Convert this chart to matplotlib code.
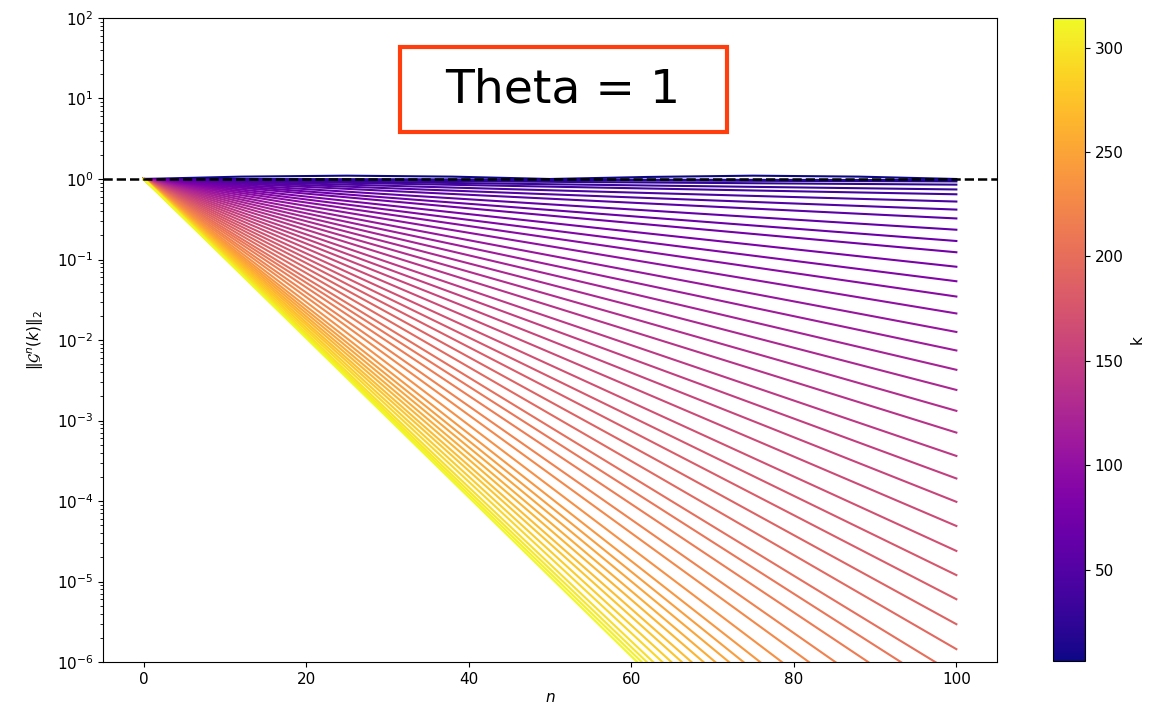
import numpy as np
import matplotlib
matplotlib.use("Agg")
import matplotlib.pyplot as plt
from matplotlib.patches import Rectangle

# mode numbers j, wavenumber k = 2*pi*j
modes = list(range(1, 51))
k_values = [2 * np.pi * j for j in modes]

# log10 ||G^n(k)||_2 at n = 100 (lines are straight on log axis)
log_end = [0.0, -0.014, -0.03, -0.07, -0.13, -0.19, -0.28, -0.38, -0.49, -0.63,
           -0.77, -0.91, -1.09, -1.27, -1.46, -1.67, -1.90, -2.13, -2.37, -2.62,
           -2.88, -3.15, -3.44, -3.72, -4.01, -4.31, -4.62, -4.92, -5.22, -5.53,
           -5.84, -6.16, -6.44, -6.73, -7.05, -7.33, -7.64, -7.91, -8.13, -8.33,
           -8.53, -8.71, -8.90, -9.06, -9.24, -9.40, -9.57, -9.69, -9.79, -9.88]

# the lowest mode wobbles slightly above 1
wobble_n = [0, 12, 25, 38, 50, 62, 75, 88, 100]
wobble_g = [1.0, 1.07, 1.10, 1.07, 1.0, 1.06, 1.10, 1.07, 1.0]

fig = plt.figure(figsize=(11.65, 7.14), dpi=100)
ax = fig.add_axes([0.0884, 0.0728, 0.7674, 0.902])
cax = fig.add_axes([0.9039, 0.0742, 0.0275, 0.9006])

cmap = plt.get_cmap('plasma')
norm = matplotlib.colors.Normalize(vmin=min(k_values), vmax=max(k_values))

for j, k, le in zip(modes, k_values, log_end):
    if j == 1:
        ax.plot(wobble_n, wobble_g, color=cmap(norm(k)), lw=1.5)
    else:
        ax.plot([0, 100], [1.0, 10 ** le], color=cmap(norm(k)), lw=1.5)

ax.axhline(1.0, color='k', ls='--', lw=1.8)
ax.set_yscale('log')
ax.set_ylim(1e-6, 1e2)
ax.set_xlim(-5, 105)
ax.set_xlabel('$n$', fontsize=11, labelpad=2)
ax.set_ylabel(r'$\|\mathcal{G}^n(k)\|_2$', fontsize=11, labelpad=8)
ax.tick_params(labelsize=11)

sm = matplotlib.cm.ScalarMappable(norm=norm, cmap=cmap)
cb = fig.colorbar(sm, cax=cax)
cb.set_label('k', fontsize=11)
cb.ax.tick_params(labelsize=11)

fig.add_artist(Rectangle((0.3433, 0.8151), 0.2807, 0.119, transform=fig.transFigure,
                         facecolor='white', edgecolor='#ff3d0d', lw=3, zorder=5))
fig.text(0.4833, 0.8746, 'Theta = 1', fontsize=34, ha='center', va='center', zorder=6)

fig.savefig('out.png', dpi=100)
